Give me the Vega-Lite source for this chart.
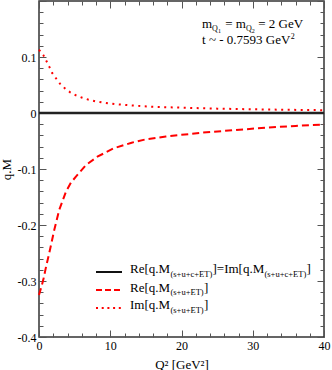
{
  "$schema": "https://vega.github.io/schema/vega-lite/v6.json",
  "width": 285,
  "height": 336,
  "autosize": {"type": "none"},
  "padding": {"left": 39, "top": 1, "right": 8, "bottom": 33},
  "background": "white",
  "config": {
    "view": {"stroke": "#333", "strokeWidth": 1.5},
    "axis": {
      "labelFont": "Liberation Serif", "labelFontSize": 12, "labelColor": "black",
      "titleFont": "Liberation Serif", "titleFontSize": 13, "titleFontWeight": "normal", "titleColor": "black",
      "grid": false, "domain": false, "tickColor": "#555", "tickWidth": 1,
      "labelOverlap": false, "labelFlush": false
    }
  },
  "datasets": {
    "curves": [
      {"series": "zero", "q2": 0, "m": 0},
      {"series": "zero", "q2": 40, "m": 0},
      {"series": "re", "q2": 0, "m": -0.325},
      {"series": "re", "q2": 0.3, "m": -0.312},
      {"series": "re", "q2": 0.6, "m": -0.298},
      {"series": "re", "q2": 1.0, "m": -0.274},
      {"series": "re", "q2": 1.44, "m": -0.25},
      {"series": "re", "q2": 2.14, "m": -0.209},
      {"series": "re", "q2": 2.84, "m": -0.173},
      {"series": "re", "q2": 3.78, "m": -0.1405},
      {"series": "re", "q2": 4.5, "m": -0.124},
      {"series": "re", "q2": 5.18, "m": -0.1137},
      {"series": "re", "q2": 6.58, "m": -0.093},
      {"series": "re", "q2": 8.2, "m": -0.078},
      {"series": "re", "q2": 10.5, "m": -0.063},
      {"series": "re", "q2": 13, "m": -0.053},
      {"series": "re", "q2": 15, "m": -0.047},
      {"series": "re", "q2": 17.8, "m": -0.042},
      {"series": "re", "q2": 20, "m": -0.039},
      {"series": "re", "q2": 23, "m": -0.035},
      {"series": "re", "q2": 26, "m": -0.032},
      {"series": "re", "q2": 29, "m": -0.029},
      {"series": "re", "q2": 32, "m": -0.026},
      {"series": "re", "q2": 36, "m": -0.023},
      {"series": "re", "q2": 40, "m": -0.0205},
      {"series": "im", "q2": 0, "m": 0.113},
      {"series": "im", "q2": 0.6, "m": 0.1036},
      {"series": "im", "q2": 1.02, "m": 0.0934},
      {"series": "im", "q2": 1.44, "m": 0.0827},
      {"series": "im", "q2": 1.82, "m": 0.072},
      {"series": "im", "q2": 2.38, "m": 0.062},
      {"series": "im", "q2": 2.94, "m": 0.0524},
      {"series": "im", "q2": 3.64, "m": 0.044},
      {"series": "im", "q2": 4.38, "m": 0.037},
      {"series": "im", "q2": 5.18, "m": 0.0316},
      {"series": "im", "q2": 6.07, "m": 0.0273},
      {"series": "im", "q2": 6.96, "m": 0.0238},
      {"series": "im", "q2": 7.9, "m": 0.0209},
      {"series": "im", "q2": 8.78, "m": 0.019},
      {"series": "im", "q2": 9.7, "m": 0.0173},
      {"series": "im", "q2": 10.6, "m": 0.016},
      {"series": "im", "q2": 13, "m": 0.0135},
      {"series": "im", "q2": 16, "m": 0.011},
      {"series": "im", "q2": 20, "m": 0.0095},
      {"series": "im", "q2": 25, "m": 0.0078},
      {"series": "im", "q2": 30, "m": 0.0066},
      {"series": "im", "q2": 35, "m": 0.0057},
      {"series": "im", "q2": 40, "m": 0.005}
    ]
  },
  "data": {"name": "curves"},
  "resolve": {"axis": {"x": "independent", "y": "independent"}},
  "layer": [
    {
      "transform": [{"filter": "datum.series === 're'"}],
      "mark": {"type": "line", "color": "#ff0000", "strokeWidth": 2, "strokeDash": [7, 4], "strokeCap": "butt"},
      "encoding": {
        "x": {"field": "q2", "type": "quantitative",
          "scale": {"domain": [0, 40], "nice": false, "zero": false},
          "axis": {"orient": "bottom", "values": [0,2,4,6,8,10,12,14,16,18,20,22,24,26,28,30,32,34,36,38,40],
            "labelExpr": "datum.value % 10 === 0 ? datum.label : ''",
            "tickSize": {"condition": {"test": "datum.value % 10 === 0", "value": -7}, "value": -4},
            "labelPadding": 10, "title": "Q² [GeV²]", "titleY": 31, "titleBaseline": "alphabetic"}},
        "y": {"field": "m", "type": "quantitative",
          "scale": {"domain": [-0.4, 0.2], "nice": false, "zero": false},
          "axis": {"orient": "left", "values": [-0.4,-0.38,-0.36,-0.34,-0.32,-0.3,-0.28,-0.26,-0.24,-0.22,-0.2,-0.18,-0.16,-0.14,-0.12,-0.1,-0.08,-0.06,-0.04,-0.02,0,0.02,0.04,0.06,0.08,0.1,0.12,0.14,0.16,0.18,0.2],
            "labelExpr": "abs(datum.value*10 - round(datum.value*10)) < 0.001 && datum.value < 0.15 ? (datum.value < -0.001 ? '-' + format(-datum.value, '.1f') : (abs(datum.value) < 0.001 ? '0' : format(datum.value, '.1f'))) : ''",
            "tickSize": {"condition": {"test": "abs(datum.value*10 - round(datum.value*10)) < 0.001", "value": -7}, "value": -4},
            "labelPadding": 10, "title": "q.M", "titlePadding": 4}}
      }
    },
    {
      "transform": [{"filter": "datum.series === 'zero'"}],
      "mark": {"type": "line", "color": "#222", "strokeWidth": 2.5},
      "encoding": {
        "x": {"field": "q2", "type": "quantitative",
          "axis": {"orient": "top", "values": [0,2,4,6,8,10,12,14,16,18,20,22,24,26,28,30,32,34,36,38,40],
            "labels": false, "title": null,
            "tickSize": {"condition": {"test": "datum.value % 10 === 0", "value": -7}, "value": -4}}},
        "y": {"field": "m", "type": "quantitative",
          "axis": {"orient": "right", "values": [-0.4,-0.38,-0.36,-0.34,-0.32,-0.3,-0.28,-0.26,-0.24,-0.22,-0.2,-0.18,-0.16,-0.14,-0.12,-0.1,-0.08,-0.06,-0.04,-0.02,0,0.02,0.04,0.06,0.08,0.1,0.12,0.14,0.16,0.18,0.2],
            "labels": false, "title": null,
            "tickSize": {"condition": {"test": "abs(datum.value*10 - round(datum.value*10)) < 0.001", "value": -7}, "value": -4}}}
      }
    },
    {
      "transform": [{"filter": "datum.series === 'im'"}],
      "mark": {"type": "line", "color": "#ff0000", "strokeWidth": 2, "strokeDash": [2, 4.5], "strokeCap": "butt"},
      "encoding": {
        "x": {"field": "q2", "type": "quantitative", "axis": null},
        "y": {"field": "m", "type": "quantitative", "axis": null}
      }
    },
    {
      "data": {"values": [{"k": "solid"}]},
      "mark": {"type": "rule", "color": "#111", "strokeWidth": 2},
      "encoding": {"x": {"datum": 8.0, "type": "quantitative", "axis": null}, "x2": {"datum": 11.65}, "y": {"datum": -0.2839, "type": "quantitative", "axis": null}}
    },
    {
      "data": {"values": [{"k": "dashed"}]},
      "mark": {"type": "rule", "color": "#ff0000", "strokeWidth": 2, "strokeDash": [6, 3], "strokeCap": "butt"},
      "encoding": {"x": {"datum": 8.0, "type": "quantitative", "axis": null}, "x2": {"datum": 11.65}, "y": {"datum": -0.3161, "type": "quantitative", "axis": null}}
    },
    {
      "data": {"values": [{"k": "dotted"}]},
      "mark": {"type": "rule", "color": "#ff0000", "strokeWidth": 2, "strokeDash": [2, 3.7], "strokeCap": "butt"},
      "encoding": {"x": {"datum": 8.0, "type": "quantitative", "axis": null}, "x2": {"datum": 11.65}, "y": {"datum": -0.3482, "type": "quantitative", "axis": null}}
    },
    {
      "data": {"values": [{"t": "Re[q.M"}]},
      "mark": {"type": "text", "align": "left", "baseline": "alphabetic", "font": "Liberation Serif", "fontSize": 13, "color": "black", "dx": 0, "dy": 1.5},
      "encoding": {"x": {"datum": 12.77, "type": "quantitative", "axis": null}, "y": {"datum": -0.2839, "type": "quantitative", "axis": null}, "text": {"field": "t"}}
    },
    {
      "data": {"values": [{"t": "(s+u+c+ET)"}]},
      "mark": {"type": "text", "align": "left", "baseline": "alphabetic", "font": "Liberation Serif", "fontSize": 8.5, "color": "black", "dx": 40.5, "dy": 5},
      "encoding": {"x": {"datum": 12.77, "type": "quantitative", "axis": null}, "y": {"datum": -0.2839, "type": "quantitative", "axis": null}, "text": {"field": "t"}}
    },
    {
      "data": {"values": [{"t": "]=Im[q.M"}]},
      "mark": {"type": "text", "align": "left", "baseline": "alphabetic", "font": "Liberation Serif", "fontSize": 13, "color": "black", "dx": 82.5, "dy": 1.5},
      "encoding": {"x": {"datum": 12.77, "type": "quantitative", "axis": null}, "y": {"datum": -0.2839, "type": "quantitative", "axis": null}, "text": {"field": "t"}}
    },
    {
      "data": {"values": [{"t": "(s+u+c+ET)"}]},
      "mark": {"type": "text", "align": "left", "baseline": "alphabetic", "font": "Liberation Serif", "fontSize": 8.5, "color": "black", "dx": 134.5, "dy": 5},
      "encoding": {"x": {"datum": 12.77, "type": "quantitative", "axis": null}, "y": {"datum": -0.2839, "type": "quantitative", "axis": null}, "text": {"field": "t"}}
    },
    {
      "data": {"values": [{"t": "]"}]},
      "mark": {"type": "text", "align": "left", "baseline": "alphabetic", "font": "Liberation Serif", "fontSize": 13, "color": "black", "dx": 176.5, "dy": 1.5},
      "encoding": {"x": {"datum": 12.77, "type": "quantitative", "axis": null}, "y": {"datum": -0.2839, "type": "quantitative", "axis": null}, "text": {"field": "t"}}
    },
    {
      "data": {"values": [{"t": "Re[q.M"}]},
      "mark": {"type": "text", "align": "left", "baseline": "alphabetic", "font": "Liberation Serif", "fontSize": 13, "color": "black", "dx": 0, "dy": 1.5},
      "encoding": {"x": {"datum": 12.77, "type": "quantitative", "axis": null}, "y": {"datum": -0.3161, "type": "quantitative", "axis": null}, "text": {"field": "t"}}
    },
    {
      "data": {"values": [{"t": "(s+u+ET)"}]},
      "mark": {"type": "text", "align": "left", "baseline": "alphabetic", "font": "Liberation Serif", "fontSize": 8.5, "color": "black", "dx": 40.5, "dy": 5},
      "encoding": {"x": {"datum": 12.77, "type": "quantitative", "axis": null}, "y": {"datum": -0.3161, "type": "quantitative", "axis": null}, "text": {"field": "t"}}
    },
    {
      "data": {"values": [{"t": "]"}]},
      "mark": {"type": "text", "align": "left", "baseline": "alphabetic", "font": "Liberation Serif", "fontSize": 13, "color": "black", "dx": 74, "dy": 1.5},
      "encoding": {"x": {"datum": 12.77, "type": "quantitative", "axis": null}, "y": {"datum": -0.3161, "type": "quantitative", "axis": null}, "text": {"field": "t"}}
    },
    {
      "data": {"values": [{"t": "Im[q.M"}]},
      "mark": {"type": "text", "align": "left", "baseline": "alphabetic", "font": "Liberation Serif", "fontSize": 13, "color": "black", "dx": 0, "dy": 1.5},
      "encoding": {"x": {"datum": 12.77, "type": "quantitative", "axis": null}, "y": {"datum": -0.3482, "type": "quantitative", "axis": null}, "text": {"field": "t"}}
    },
    {
      "data": {"values": [{"t": "(s+u+ET)"}]},
      "mark": {"type": "text", "align": "left", "baseline": "alphabetic", "font": "Liberation Serif", "fontSize": 8.5, "color": "black", "dx": 40.5, "dy": 5},
      "encoding": {"x": {"datum": 12.77, "type": "quantitative", "axis": null}, "y": {"datum": -0.3482, "type": "quantitative", "axis": null}, "text": {"field": "t"}}
    },
    {
      "data": {"values": [{"t": "]"}]},
      "mark": {"type": "text", "align": "left", "baseline": "alphabetic", "font": "Liberation Serif", "fontSize": 13, "color": "black", "dx": 74, "dy": 1.5},
      "encoding": {"x": {"datum": 12.77, "type": "quantitative", "axis": null}, "y": {"datum": -0.3482, "type": "quantitative", "axis": null}, "text": {"field": "t"}}
    },
    {
      "data": {"values": [{"t": "m"}]},
      "mark": {"type": "text", "align": "left", "baseline": "alphabetic", "font": "Liberation Serif", "fontSize": 13, "color": "black", "dx": 0, "dy": 0},
      "encoding": {"x": {"datum": 22.88, "type": "quantitative", "axis": null}, "y": {"datum": 0.1518, "type": "quantitative", "axis": null}, "text": {"field": "t"}}
    },
    {
      "data": {"values": [{"t": "Q"}]},
      "mark": {"type": "text", "align": "left", "baseline": "alphabetic", "font": "Liberation Serif", "fontSize": 8, "color": "black", "dx": 10.1, "dy": 3},
      "encoding": {"x": {"datum": 22.88, "type": "quantitative", "axis": null}, "y": {"datum": 0.1518, "type": "quantitative", "axis": null}, "text": {"field": "t"}}
    },
    {
      "data": {"values": [{"t": "1"}]},
      "mark": {"type": "text", "align": "left", "baseline": "alphabetic", "font": "Liberation Serif", "fontSize": 6, "color": "black", "dx": 15.9, "dy": 5},
      "encoding": {"x": {"datum": 22.88, "type": "quantitative", "axis": null}, "y": {"datum": 0.1518, "type": "quantitative", "axis": null}, "text": {"field": "t"}}
    },
    {
      "data": {"values": [{"t": "= m"}]},
      "mark": {"type": "text", "align": "left", "baseline": "alphabetic", "font": "Liberation Serif", "fontSize": 13, "color": "black", "dx": 23.2, "dy": 0},
      "encoding": {"x": {"datum": 22.88, "type": "quantitative", "axis": null}, "y": {"datum": 0.1518, "type": "quantitative", "axis": null}, "text": {"field": "t"}}
    },
    {
      "data": {"values": [{"t": "Q"}]},
      "mark": {"type": "text", "align": "left", "baseline": "alphabetic", "font": "Liberation Serif", "fontSize": 8, "color": "black", "dx": 44, "dy": 3},
      "encoding": {"x": {"datum": 22.88, "type": "quantitative", "axis": null}, "y": {"datum": 0.1518, "type": "quantitative", "axis": null}, "text": {"field": "t"}}
    },
    {
      "data": {"values": [{"t": "2"}]},
      "mark": {"type": "text", "align": "left", "baseline": "alphabetic", "font": "Liberation Serif", "fontSize": 6, "color": "black", "dx": 49.8, "dy": 5},
      "encoding": {"x": {"datum": 22.88, "type": "quantitative", "axis": null}, "y": {"datum": 0.1518, "type": "quantitative", "axis": null}, "text": {"field": "t"}}
    },
    {
      "data": {"values": [{"t": "= 2 GeV"}]},
      "mark": {"type": "text", "align": "left", "baseline": "alphabetic", "font": "Liberation Serif", "fontSize": 13, "color": "black", "dx": 56.2, "dy": 0},
      "encoding": {"x": {"datum": 22.88, "type": "quantitative", "axis": null}, "y": {"datum": 0.1518, "type": "quantitative", "axis": null}, "text": {"field": "t"}}
    },
    {
      "data": {"values": [{"t": "t ~ - 0.7593 GeV"}]},
      "mark": {"type": "text", "align": "left", "baseline": "alphabetic", "font": "Liberation Serif", "fontSize": 13, "color": "black", "dx": 0, "dy": 0},
      "encoding": {"x": {"datum": 22.88, "type": "quantitative", "axis": null}, "y": {"datum": 0.1232, "type": "quantitative", "axis": null}, "text": {"field": "t"}}
    },
    {
      "data": {"values": [{"t": "2"}]},
      "mark": {"type": "text", "align": "left", "baseline": "alphabetic", "font": "Liberation Serif", "fontSize": 8, "color": "black", "dx": 88.8, "dy": -5},
      "encoding": {"x": {"datum": 22.88, "type": "quantitative", "axis": null}, "y": {"datum": 0.1232, "type": "quantitative", "axis": null}, "text": {"field": "t"}}
    }
  ]
}
